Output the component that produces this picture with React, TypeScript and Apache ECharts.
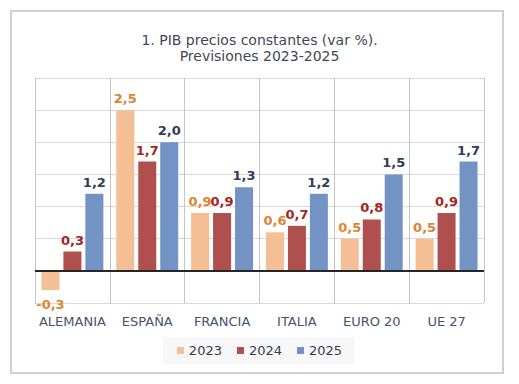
import React, { useEffect, useRef } from "react";
import * as echarts from "echarts";

const categories = ["ALEMANIA", "ESPAÑA", "FRANCIA", "ITALIA", "EURO 20", "UE 27"];
const seriesNames = ["2023", "2024", "2025"];
const values2023 = [-0.3, 2.5, 0.9, 0.6, 0.5, 0.5];
const values2024 = [0.3, 1.7, 0.9, 0.7, 0.8, 0.9];
const values2025 = [1.2, 2.0, 1.3, 1.2, 1.5, 1.7];
const titleText = "1. PIB precios constantes (var %).\nPrevisiones 2023-2025";

const barColors = ["#F4BF94", "#B0504E", "#7293C3"];
const labelColors = ["#E0832F", "#A52420", "#2F3D58"];
const FONT = "DejaVu Sans";

export default function App() {
  const ref = useRef<HTMLDivElement>(null);
  useEffect(() => {
    document.body.style.margin = "0";
    if (!ref.current) return;
    const chart = echarts.init(ref.current, undefined, { renderer: "svg" });
    const fmt = (p: any) => String(Number(p.value).toFixed(1)).replace(".", ",");
    const allValues = [values2023, values2024, values2025];
    const series: any[] = allValues.map((vals, i) => ({
      name: seriesNames[i],
      type: "bar",
      barWidth: 18,
      barGap: "22%",
      itemStyle: { color: barColors[i] },
      label: {
        show: true,
        position: "top",
        distance: 5,
        formatter: fmt,
        color: labelColors[i],
        fontFamily: FONT,
        fontSize: 13,
        fontWeight: "bold",
      },
      data: vals.map((v) =>
        v < 0 ? { value: v, label: { position: "bottom", distance: 8 } } : v
      ),
    }));
    series[2].markLine = {
      silent: true,
      symbol: "none",
      label: { show: false },
      lineStyle: { color: "#262626", width: 2, type: "solid" },
      data: [{ yAxis: 0 }],
      z: 10,
    };
    chart.setOption({
      animation: false,
      backgroundColor: "#ffffff",
      graphic: [
        {
          type: "rect",
          shape: { x: 11, y: 11, width: 492, height: 362 },
          style: { fill: "none", stroke: "#d0d0d0", lineWidth: 2 },
          silent: true,
        },
      ],
      title: {
        text: titleText,
        left: "center",
        top: 27,
        textStyle: {
          fontFamily: FONT,
          fontSize: 14,
          fontWeight: "normal",
          color: "#3F4756",
          lineHeight: 16,
        },
      },
      legend: {
        data: seriesNames,
        left: "center",
        top: 337,
        itemWidth: 7,
        itemHeight: 7,
        itemGap: 15,
        icon: "rect",
        backgroundColor: "#f7f7f7",
        padding: [7, 12, 7, 14],
        textStyle: { fontFamily: FONT, fontSize: 13, color: "#333F50" },
      },
      grid: { left: 35, right: 35, top: 78, bottom: 81 },
      xAxis: {
        type: "category",
        data: categories,
        position: "bottom",
        axisLine: { show: false, onZero: false },
        axisTick: { show: false },
        splitLine: { show: true, lineStyle: { color: "#c4c4c4", width: 1 } },
        axisLabel: {
          margin: 12,
          fontFamily: FONT,
          fontSize: 13,
          color: "#44546A",
          interval: 0,
        },
      },
      yAxis: {
        type: "value",
        min: -0.5,
        max: 3,
        interval: 0.5,
        axisLabel: { show: false },
        axisLine: { show: false },
        axisTick: { show: false },
        splitLine: { show: true, lineStyle: { color: "#d9d9d9", width: 1 } },
      },
      series,
    });
    return () => chart.dispose();
  }, []);
  return <div ref={ref} style={{ width: 519, height: 384 }} />;
}
